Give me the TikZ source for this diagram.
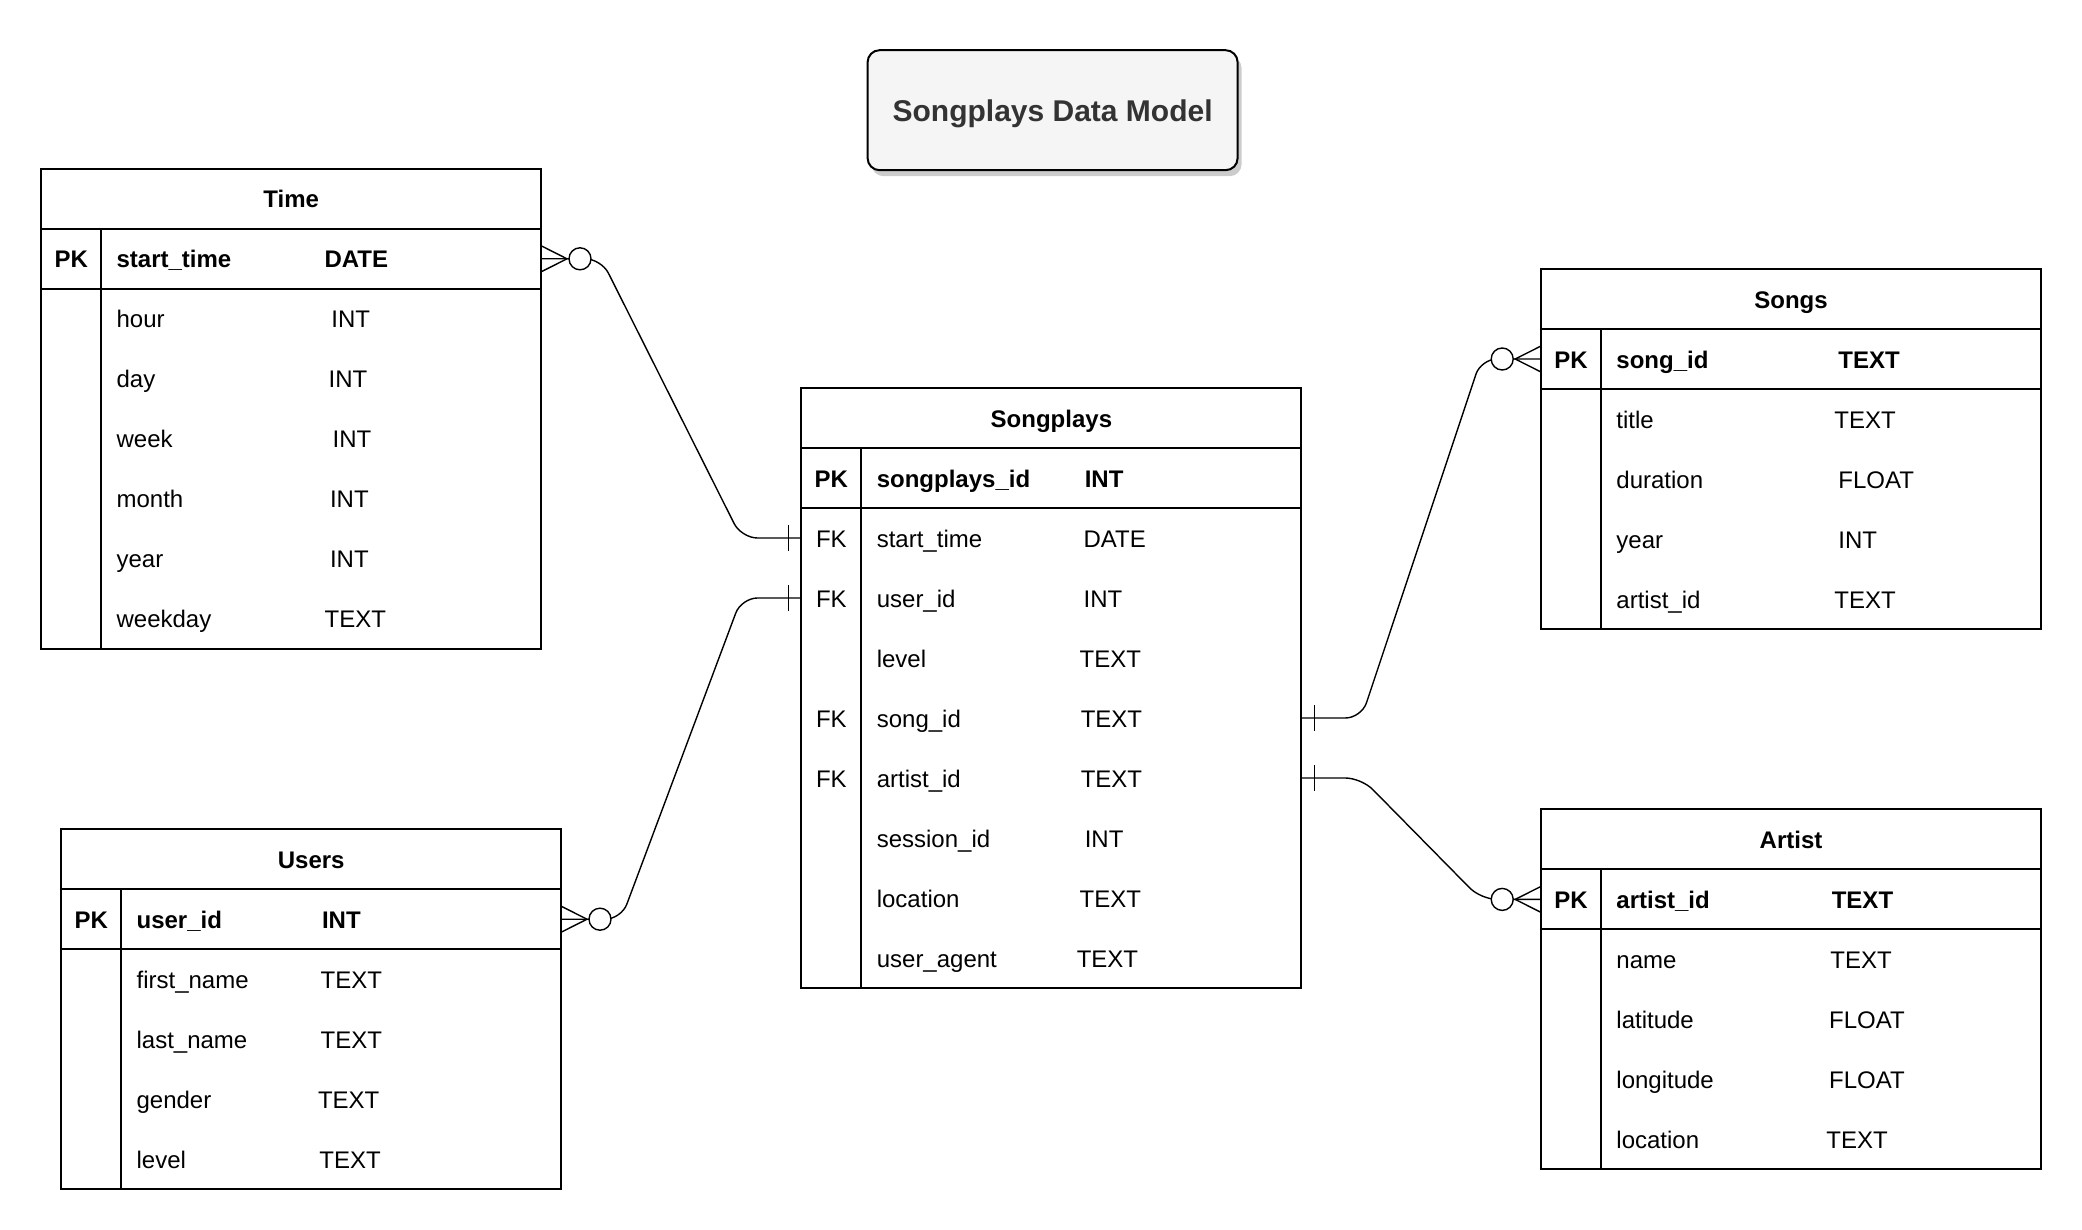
\documentclass[tikz,border=0pt]{standalone}
\usepackage{fontspec}
\setmainfont{Liberation Sans}
\usetikzlibrary{positioning,calc,shadows}
\definecolor{titlefill}{HTML}{F5F5F5}
\definecolor{titletext}{HTML}{333333}
% crow's foot with circle (zero or many), #2 = side (1 right, -1 left)
\newcommand{\manyzero}[2]{%
\draw[erline] ($(#1)+(0,-6.5)$) -- ($(#1)+(#2*12.9,0)$) -- ($(#1)+(0,6.5)$);
\draw[erline,fill=white] ($(#1)+(#2*19.4,0)$) circle (5.5pt);}
% single bar (one)
\newcommand{\onebar}[2]{%
\draw[erline] ($(#1)+(#2*6.5,-6.5)$) -- ($(#1)+(#2*6.5,6.5)$);}

\begin{document}
\begin{tikzpicture}
[x=1pt,y=-1pt,font=\fontsize{12}{14.4}\selectfont,
tbl/.style={draw=black,line width=1pt,minimum width=250pt,minimum height=30pt,inner sep=0pt,outer sep=0pt,anchor=north west,text height=9.5pt,text depth=.5pt},
hdr/.style={tbl,font=\fontsize{12}{14.4}\selectfont\bfseries},
rowbox/.style={minimum width=250pt,minimum height=30pt,inner sep=0pt,outer sep=0pt,anchor=north west},
txt/.style={anchor=base west,inner sep=0pt},
pkcol/.style={anchor=base,inner sep=0pt},
divline/.style={line width=1pt},
erline/.style={line width=.7pt},
rel/.style={erline,rounded corners=8pt},
heading/.style={draw=black,line width=1pt,fill=titlefill,text=titletext,rounded corners=6pt,minimum width=185pt,minimum height=60pt,anchor=north west,inner sep=0pt,text height=11.7pt,text depth=.5pt,font=\fontsize{15}{18}\selectfont\bfseries,drop shadow={shadow xshift=2pt,shadow yshift=-3pt,opacity=.2,fill=black}}]
\useasboundingbox (0,0) rectangle (1041,615);
%%
\node[heading] (title) at (433.3,24.6) {Songplays Data Model};
%% Time
\node[hdr] (time) at (20.6,84.4) {Time};
\node[tbl,below=0pt of time] (time-pk) {};
\node[tbl,minimum height=180pt,below=0pt of time-pk] (time-body) {};
\draw[divline] ([xshift=30pt]time-pk.north west) -- ([xshift=30pt]time-body.south west);
\node[pkcol] at ($(time-pk.west)+(15,4.5)$) {\textbf{PK}};
\node[txt] at ($(time-pk.west)+(37.5,4.5)$) {\textbf{start\_time}};
\node[txt] at ($(time-pk.west)+(141.5,4.5)$) {\textbf{DATE}};
\foreach \f/\t/\tx [count=\i] in {hour/INT/144.9,day/INT/143.5,week/INT/145.5,month/INT/144.2,year/INT/144.2,weekday/TEXT/141.5}{
\node[rowbox] (time-\i) at ($(time-body.north west)+(0,30*\i-30)$) {};
\node[txt] at ($(time-\i.west)+(37.5,4.5)$) {\f};
\node[txt] at ($(time-\i.west)+(\tx,4.5)$) {\t};
}
%% Users
\node[hdr] (users) at (30.6,414.6) {Users};
\node[tbl,below=0pt of users] (users-pk) {};
\node[tbl,minimum height=120pt,below=0pt of users-pk] (users-body) {};
\draw[divline] ([xshift=30pt]users-pk.north west) -- ([xshift=30pt]users-body.south west);
\node[pkcol] at ($(users-pk.west)+(15,4.5)$) {\textbf{PK}};
\node[txt] at ($(users-pk.west)+(37.5,4.5)$) {\textbf{user\_id}};
\node[txt] at ($(users-pk.west)+(130.2,4.5)$) {\textbf{INT}};
\foreach \f/\t/\tx [count=\i] in {first\_name/TEXT/129.5,last\_name/TEXT/129.5,gender/TEXT/128.2,level/TEXT/128.9}{
\node[rowbox] (users-\i) at ($(users-body.north west)+(0,30*\i-30)$) {};
\node[txt] at ($(users-\i.west)+(37.5,4.5)$) {\f};
\node[txt] at ($(users-\i.west)+(\tx,4.5)$) {\t};
}
%% Songplays
\node[hdr] (sp) at (400.7,194) {Songplays};
\node[tbl,below=0pt of sp] (sp-pk) {};
\node[tbl,minimum height=240pt,below=0pt of sp-pk] (sp-body) {};
\draw[divline] ([xshift=30pt]sp-pk.north west) -- ([xshift=30pt]sp-body.south west);
\node[pkcol] at ($(sp-pk.west)+(15,4.5)$) {\textbf{PK}};
\node[txt] at ($(sp-pk.west)+(37.5,4.5)$) {\textbf{songplays\_id}};
\node[txt] at ($(sp-pk.west)+(141.5,4.5)$) {\textbf{INT}};
\foreach \f/\t/\tx [count=\i] in {start\_time/DATE/140.9,user\_id/INT/140.9,level/TEXT/138.9,song\_id/TEXT/139.5,artist\_id/TEXT/139.5,session\_id/INT/141.5,location/TEXT/138.9,user\_agent/TEXT/137.5}{
\node[rowbox] (sp-\i) at ($(sp-body.north west)+(0,30*\i-30)$) {};
\node[txt] at ($(sp-\i.west)+(37.5,4.5)$) {\f};
\node[txt] at ($(sp-\i.west)+(\tx,4.5)$) {\t};
}
\foreach \i in {1,2,4,5}
\node[pkcol] at ($(sp-\i.west)+(15,4.5)$) {FK};
%% Songs
\node[hdr] (songs) at (770.5,134.5) {Songs};
\node[tbl,below=0pt of songs] (songs-pk) {};
\node[tbl,minimum height=120pt,below=0pt of songs-pk] (songs-body) {};
\draw[divline] ([xshift=30pt]songs-pk.north west) -- ([xshift=30pt]songs-body.south west);
\node[pkcol] at ($(songs-pk.west)+(15,4.5)$) {\textbf{PK}};
\node[txt] at ($(songs-pk.west)+(37.5,4.5)$) {\textbf{song\_id}};
\node[txt] at ($(songs-pk.west)+(148.5,4.5)$) {\textbf{TEXT}};
\foreach \f/\t/\tx [count=\i] in {title/TEXT/146.5,duration/FLOAT/148.5,year/INT/148.5,artist\_id/TEXT/146.5}{
\node[rowbox] (songs-\i) at ($(songs-body.north west)+(0,30*\i-30)$) {};
\node[txt] at ($(songs-\i.west)+(37.5,4.5)$) {\f};
\node[txt] at ($(songs-\i.west)+(\tx,4.5)$) {\t};
}
%% Artist
\node[hdr] (artist) at (770.5,404.7) {Artist};
\node[tbl,below=0pt of artist] (artist-pk) {};
\node[tbl,minimum height=120pt,below=0pt of artist-pk] (artist-body) {};
\draw[divline] ([xshift=30pt]artist-pk.north west) -- ([xshift=30pt]artist-body.south west);
\node[pkcol] at ($(artist-pk.west)+(15,4.5)$) {\textbf{PK}};
\node[txt] at ($(artist-pk.west)+(37.5,4.5)$) {\textbf{artist\_id}};
\node[txt] at ($(artist-pk.west)+(145.2,4.5)$) {\textbf{TEXT}};
\foreach \f/\t/\tx [count=\i] in {name/TEXT/144.5,latitude/FLOAT/143.9,longitude/FLOAT/143.9,location/TEXT/142.5}{
\node[rowbox] (artist-\i) at ($(artist-body.north west)+(0,30*\i-30)$) {};
\node[txt] at ($(artist-\i.west)+(37.5,4.5)$) {\f};
\node[txt] at ($(artist-\i.west)+(\tx,4.5)$) {\t};
}
%% relations
\draw[rel] (time-pk.east) -- ++(30,0) -- ($(sp-1.west)+(-30,0)$) -- (sp-1.west);
\manyzero{time-pk.east}{1}
\onebar{sp-1.west}{-1}
\draw[rel] (users-pk.east) -- ++(30,0) -- ($(sp-2.west)+(-30,0)$) -- (sp-2.west);
\manyzero{users-pk.east}{1}
\onebar{sp-2.west}{-1}
\draw[rel] (sp-4.east) -- ++(30,0) -- ($(songs-pk.west)+(-30,0)$) -- (songs-pk.west);
\onebar{sp-4.east}{1}
\manyzero{songs-pk.west}{-1}
\draw[rel] (sp-5.east) -- ++(30,0) -- ($(artist-pk.west)+(-30,0)$) -- (artist-pk.west);
\onebar{sp-5.east}{1}
\manyzero{artist-pk.west}{-1}
\end{tikzpicture}
\end{document}
